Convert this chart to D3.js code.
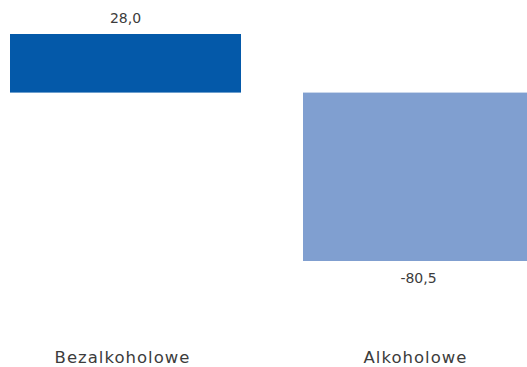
<!DOCTYPE html>
<html>
<head>
<meta charset="utf-8">
<script src="https://cdn.jsdelivr.net/npm/d3@7"></script>
<style>
  body { margin: 0; background: #fff; }
  svg { display: block; }
</style>
</head>
<body>
<div id="chart"></div>
<script>
// chart data
const categories = ["Bezalkoholowe", "Alkoholowe"];
const values = [28.0, -80.5];
const barColors = ["#0459a9", "#809fd0"];

const width = 527;
const height = 367;

const svg = d3.select("#chart")
    .append("svg")
    .attr("width", width)
    .attr("height", height);

// scales
const x = d3.scaleBand()
    .domain(categories)
    .range([10, 534])
    .paddingInner(0.2116)
    .paddingOuter(0);

const y = d3.scaleLinear()
    .domain([-80.5, 28])
    .range([261, 34]);

// polish number format: comma decimal, plain hyphen for minus
const fmt = d => d.toFixed(1).replace(".", ",");

// bars
svg.append("g")
    .selectAll("rect")
    .data(values)
    .join("rect")
    .attr("x", (d, i) => x(categories[i]))
    .attr("width", x.bandwidth())
    .attr("y", d => y(Math.max(0, d)))
    .attr("height", d => Math.abs(y(d) - y(0)))
    .attr("fill", (d, i) => barColors[i]);

// value labels
svg.append("g")
    .attr("font-family", "DejaVu Sans, sans-serif")
    .attr("font-size", 14)
    .attr("fill", "#3c3c3c")
    .attr("text-anchor", "middle")
    .selectAll("text")
    .data(values)
    .join("text")
    .attr("x", (d, i) => x(categories[i]) + x.bandwidth() / 2)
    .attr("y", d => d >= 0 ? y(d) - 11 : y(d) + 22)
    .text(fmt);

// category labels
svg.append("g")
    .attr("font-family", "DejaVu Sans, sans-serif")
    .attr("font-size", 16.5)
    .attr("letter-spacing", 1)
    .attr("fill", "#3c3c3c")
    .attr("text-anchor", "middle")
    .selectAll("text")
    .data(categories)
    .join("text")
    .attr("x", d => x(d) + x.bandwidth() / 2 - 3)
    .attr("y", 363)
    .text(d => d);
</script>
</body>
</html>
